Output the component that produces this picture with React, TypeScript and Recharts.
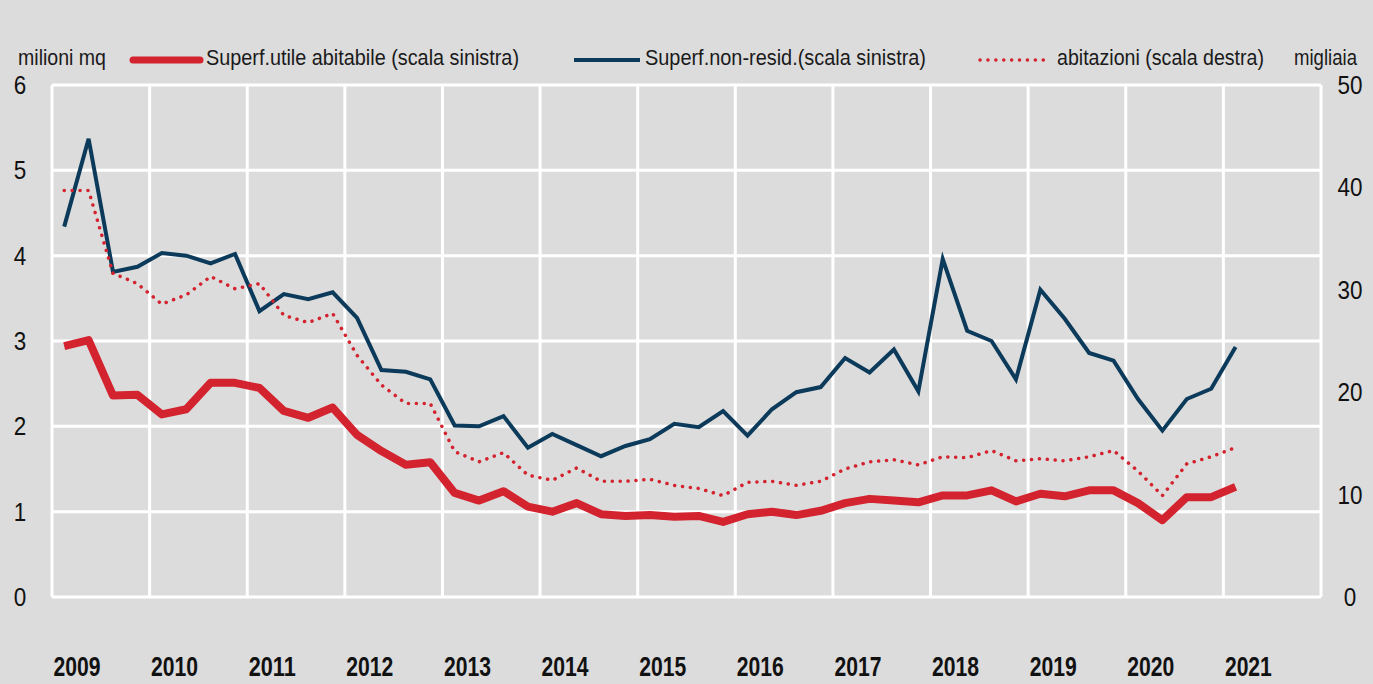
import React from 'react';
import { LineChart, Line, XAxis, YAxis, CartesianGrid, Legend } from 'recharts';

// quarterly data, 2009 Q1 - 2021 Q1
const START_YEAR = 2009;
const YEAR_TICKS = [2009, 2010, 2011, 2012, 2013, 2014, 2015, 2016, 2017, 2018, 2019, 2020, 2021, 2022];
const LEFT_TICKS = [0, 1, 2, 3, 4, 5, 6];
const RIGHT_TICKS = [0, 10, 20, 30, 40, 50];

// milioni mq (scala sinistra)
const superfUtile = [
  2.94, 3.01, 2.36, 2.37, 2.14, 2.2, 2.51, 2.51, 2.45, 2.18, 2.1, 2.22,
  1.9, 1.71, 1.55, 1.58, 1.22, 1.13, 1.24, 1.06, 1.0, 1.1, 0.97, 0.95,
  0.96, 0.94, 0.95, 0.88, 0.97, 1.0, 0.96, 1.01, 1.1, 1.15, 1.13, 1.11,
  1.19, 1.19, 1.25, 1.12, 1.21, 1.18, 1.25, 1.25, 1.1, 0.9, 1.17, 1.17, 1.29,
];

const superfNonResid = [
  4.34, 5.37, 3.81, 3.87, 4.03, 4.0, 3.91, 4.02, 3.35, 3.55, 3.49, 3.57,
  3.27, 2.66, 2.64, 2.55, 2.01, 2.0, 2.12, 1.75, 1.91, 1.78, 1.65, 1.77,
  1.85, 2.03, 1.99, 2.18, 1.89, 2.2, 2.4, 2.46, 2.8, 2.63, 2.9, 2.41,
  3.96, 3.12, 3.0, 2.55, 3.6, 3.26, 2.86, 2.77, 2.32, 1.95, 2.32, 2.44, 2.93,
];

// migliaia (scala destra)
const abitazioni = [
  39.7, 39.7, 31.6, 30.6, 28.6, 29.5, 31.3, 30.1, 30.6, 27.5, 26.8, 27.7,
  23.6, 20.7, 18.9, 18.9, 14.2, 13.2, 14.1, 11.9, 11.4, 12.6, 11.3, 11.3,
  11.5, 10.9, 10.6, 9.9, 11.2, 11.3, 10.9, 11.3, 12.5, 13.2, 13.4, 12.9,
  13.7, 13.6, 14.3, 13.3, 13.5, 13.3, 13.7, 14.3, 12.3, 9.9, 13.0, 13.7, 14.6,
];

const RED = '#d3232f';
const BLUE = '#0b3a5a';
const BG = '#dcdcdc';
const FONT = '"Liberation Sans", Arial, sans-serif';

const data = superfUtile.map((v, i) => ({
  t: START_YEAR + (i + 0.5) / 4,
  utile: v,
  nonResid: superfNonResid[i],
  abitazioni: abitazioni[i],
}));

// narrow look: squeeze the glyphs to the widths seen in the original
const narrow = (w: number) => ({ textLength: w, lengthAdjust: 'spacingAndGlyphs' as const });

const YearTick = (props: any) => {
  const { x, y, payload } = props;
  if (payload.value === YEAR_TICKS[YEAR_TICKS.length - 1]) return null;
  return (
    <text x={x + 25} y={y + 71} textAnchor="middle" fontSize={28} fontWeight="bold" fill="#111" fontFamily={FONT} {...narrow(47)}>
      {payload.value}
    </text>
  );
};

const LeftTick = (props: any) => {
  const { x, y, payload } = props;
  const s = String(payload.value);
  return (
    <text x={x - 24} y={y + 9} textAnchor="middle" fontSize={26} fill="#111" fontFamily={FONT} {...narrow(12.5 * s.length)}>
      {s}
    </text>
  );
};

const RightTick = (props: any) => {
  const { x, y, payload } = props;
  const s = String(payload.value);
  return (
    <text x={x + 21} y={y + 9} textAnchor="middle" fontSize={26} fill="#111" fontFamily={FONT} {...narrow(12.5 * s.length)}>
      {s}
    </text>
  );
};

const ChartLegend = () => (
  <div style={{ position: 'relative', width: 1373, height: 0 }}>
    <svg width={1373} height={90} style={{ position: 'absolute', left: 0, top: 0, overflow: 'visible' }}>
      <g fontFamily={FONT} fontSize={22} fill="#1a1a1a">
        <text x={18} y={65} {...narrow(88)}>milioni mq</text>
        <line x1={133} y1={60} x2={200} y2={60} stroke={RED} strokeWidth={7} strokeLinecap="round" />
        <text x={206} y={65} {...narrow(313)}>Superf.utile abitabile (scala sinistra)</text>
        <line x1={574} y1={60} x2={640} y2={60} stroke={BLUE} strokeWidth={4} />
        <text x={645} y={65} {...narrow(281)}>Superf.non-resid.(scala sinistra)</text>
        <line x1={980} y1={60} x2={1045} y2={60} stroke={RED} strokeWidth={3.5} strokeDasharray="0.1 7.8" strokeLinecap="round" />
        <text x={1057} y={65} {...narrow(207)}>abitazioni (scala destra)</text>
        <text x={1294} y={65} {...narrow(63)}>migliaia</text>
      </g>
    </svg>
  </div>
);

export default function App() {
  return (
    <div style={{ position: 'fixed', left: 0, top: 0, width: 1373, height: 684, background: BG }}>
      <LineChart width={1373} height={684} data={data} margin={{ top: 85, right: 12, bottom: 7, left: 12 }}>
        <CartesianGrid yAxisId="left" stroke="#ffffff" strokeWidth={3} />
        <XAxis
          dataKey="t"
          type="number"
          domain={[2009, 2022]}
          ticks={YEAR_TICKS}
          interval={0}
          height={80}
          axisLine={false}
          tickLine={false}
          tick={<YearTick />}
        />
        <YAxis
          yAxisId="left"
          domain={[0, 6]}
          ticks={LEFT_TICKS}
          width={40}
          axisLine={false}
          tickLine={false}
          tick={<LeftTick />}
        />
        <YAxis
          yAxisId="right"
          orientation="right"
          domain={[0, 50]}
          ticks={RIGHT_TICKS}
          width={40}
          axisLine={false}
          tickLine={false}
          tick={<RightTick />}
        />
        <Legend content={<ChartLegend />} wrapperStyle={{ left: 0, top: 0, width: 1373 }} verticalAlign="middle" align="center" layout="horizontal" />
        <Line yAxisId="left" dataKey="nonResid" stroke={BLUE} strokeWidth={4} dot={false} isAnimationActive={false} />
        <Line yAxisId="right" dataKey="abitazioni" stroke={RED} strokeWidth={3.5} strokeDasharray="0.1 7.8" strokeLinecap="round" dot={false} isAnimationActive={false} />
        <Line yAxisId="left" dataKey="utile" stroke={RED} strokeWidth={8} dot={false} isAnimationActive={false} strokeLinejoin="round" />
      </LineChart>
    </div>
  );
}
